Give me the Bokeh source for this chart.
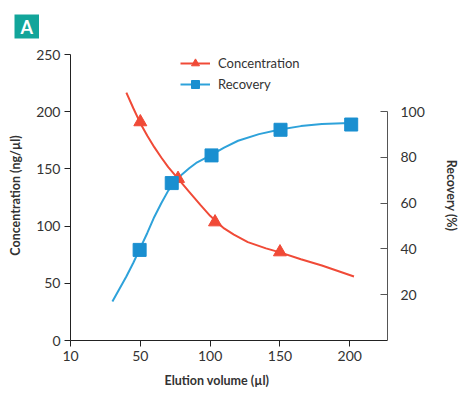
from bokeh.plotting import figure
from bokeh.models import Range1d, LinearAxis, FixedTicker, Legend, LegendItem, Title
from bokeh.embed import file_html
from bokeh.resources import INLINE

# Data
conc_x = [50, 77, 103.5, 150]
conc_y = [191, 141.5, 103.5, 77.3]
rec_x = [49.5, 72.5, 101, 150.4, 201]
rec_y = [39.6, 68.8, 80.9, 92.1, 94.4]

conc_curve_x = [40, 45, 50, 55, 60, 65, 70, 77, 85, 93, 100, 103.5, 110, 117, 127, 140, 150, 165, 180, 203]
conc_curve_y = [216.7, 203, 190, 179, 169, 160, 151.5, 141.5, 130, 118.5, 109, 105, 98, 92.5, 86, 80.5, 77, 71, 65.5, 56]
rec_curve_x = [30, 35, 40, 45, 50, 55, 60, 65, 70, 75, 80, 85, 90, 100, 110, 120, 135, 150, 165, 180, 195, 205]
rec_curve_y = [17, 22.5, 28, 34, 40.5, 47, 54, 60, 65.5, 69.5, 72.7, 75.3, 77.6, 80.8, 84.3, 87.3, 90.2, 92.2, 93.7, 94.6, 95, 95.1]

x_ticks = [0, 50, 100, 150, 200]
x_tick_labels = {0: "10", 50: "50", 100: "100", 150: "150", 200: "200"}
left_ticks = [0, 50, 100, 150, 200, 250]
right_ticks = [20, 40, 60, 80, 100]

RED = "#f04a37"
BLUE = "#1a8fd0"
BLUE_LINE = "#2ea2da"
TXT = "#333333"
FONT = "Lato"
TITLE_SIZE = "12.5px"

p = figure(width=461, height=399, output_backend="svg", toolbar_location=None,
           x_range=Range1d(0, 227), y_range=Range1d(0, 253.5),
           min_border_left=70, min_border_right=71, min_border_top=50, min_border_bottom=59)
p.outline_line_color = None
p.grid.visible = False
p.background_fill_color = "white"
p.border_fill_color = "white"

p.extra_y_ranges = {"rec": Range1d(0, 126.75)}

# x axis
xa = p.xaxis[0]
xa.ticker = FixedTicker(ticks=x_ticks)
xa.major_label_overrides = x_tick_labels
xa.minor_tick_line_color = None
xa.major_tick_in = 0
xa.major_tick_out = 6
xa.major_label_text_font = FONT
xa.major_label_text_font_size = "14px"
xa.major_label_text_color = TXT
xa.major_label_standoff = 4
xa.axis_line_color = "#222222"
xa.major_tick_line_color = "#222222"

# left axis
ya = p.yaxis[0]
ya.ticker = FixedTicker(ticks=left_ticks)
ya.bounds = (0, 250)
ya.minor_tick_line_color = None
ya.major_tick_in = 0
ya.major_tick_out = 6
ya.axis_label = "Concentration (ng/µl)"
ya.axis_label_text_font = FONT
ya.axis_label_text_font_style = "bold"
ya.axis_label_text_font_size = TITLE_SIZE
ya.axis_label_text_color = TXT
ya.axis_label_standoff = 10
ya.major_label_text_font = FONT
ya.major_label_text_font_size = "14px"
ya.major_label_text_color = TXT
ya.major_label_standoff = 4
ya.axis_line_color = "#222222"
ya.major_tick_line_color = "#222222"

# right axis
ra = LinearAxis(y_range_name="rec", ticker=FixedTicker(ticks=right_ticks), bounds=(0, 100))
ra.minor_tick_line_color = None
ra.major_tick_in = 7
ra.major_tick_out = 0
ra.axis_label = "Recovery (%)"
ra.axis_label_text_font = FONT
ra.axis_label_text_font_style = "bold"
ra.axis_label_text_font_size = TITLE_SIZE
ra.axis_label_text_color = TXT
ra.axis_label_standoff = 16
ra.major_label_text_font = FONT
ra.major_label_text_font_size = "14px"
ra.major_label_text_color = TXT
ra.major_label_standoff = 13
ra.axis_line_color = "#555555"
ra.major_tick_line_color = "#555555"
p.add_layout(ra, "right")

# curves
cl = p.line(conc_curve_x, conc_curve_y, color=RED, line_width=2)
rl = p.line(rec_curve_x, rec_curve_y, color=BLUE_LINE, line_width=2, y_range_name="rec")
cm = p.scatter(conc_x, conc_y, marker="triangle", size=13, fill_color=RED, line_color=RED)
rm = p.scatter(rec_x, rec_y, marker="square", size=13, fill_color=BLUE, line_color=BLUE,
               y_range_name="rec")

legend = Legend(items=[LegendItem(label="Concentration", renderers=[cl, cm]),
                       LegendItem(label="Recovery", renderers=[rl, rm])],
                location=(110, 246), border_line_color=None, background_fill_alpha=0,
                label_text_font=FONT, label_text_font_size="13px", label_text_color=TXT,
                glyph_width=30, label_standoff=8, spacing=1, padding=0, margin=0)
p.add_layout(legend)

# x axis title (as a title below the axis, so it can be placed precisely)
xt = Title(text="Elution volume (µl)", align="left", offset=94, standoff=15,
           text_color=TXT, text_font=FONT, text_font_style="bold", text_font_size=TITLE_SIZE)
p.add_layout(xt, "below")

# panel letter
lab = Title(text="A", align="left", offset=-56, standoff=24,
            text_color="white", text_font=FONT, text_font_style="bold", text_font_size="18px",
            background_fill_color="#12a59a",
            padding=dict(left=6, right=6, top=1, bottom=1))
p.add_layout(lab, "above")

open("out.html", "w").write(file_html(p, INLINE))
